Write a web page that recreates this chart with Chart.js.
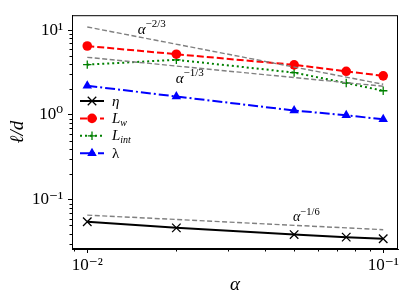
<!DOCTYPE html>
<html>
<head>
<meta charset="utf-8">
<script src="https://cdn.jsdelivr.net/npm/chart.js@4"></script>
<style>
html, body { margin: 0; padding: 0; background: #fff; }
#wrap { width: 407px; height: 300px; }
</style>
</head>
<body>
<div id="wrap"><canvas id="chart"></canvas></div>
<script>
// valores
const alpha = [0.01, 0.02, 0.05, 0.075, 0.1];
const eta = [0.055, 0.0467, 0.0389, 0.0363, 0.0348];
const lenW = [6.5, 5.2, 3.9, 3.27, 2.89];
const lenInt = [3.92, 4.47, 3.16, 2.38, 1.93];
const lambda = [2.21, 1.65, 1.13, 0.99, 0.89];

// retas de referência (só as pontas)
const guideX = [0.01, 0.1];
const guide23 = [10.9, 2.3];
const guide13 = [4.78, 2.18];
const guide16 = [0.066, 0.0444];

const xTicks = [0.01, 0.1];
const xTickLabels = ['10⁻²', '10⁻¹'];
const yTicks = [0.1, 1, 10];
const yTickLabels = ['10⁻¹', '10⁰', '10¹'];

const SERIF = '"Liberation Serif", "DejaVu Serif", serif';

function pts(xs, ys) {
    return xs.map((x, i) => ({ x: x, y: ys[i] }));
}

function guide(ys) {
    return {
        data: pts(guideX, ys), borderColor: '#808080', borderWidth: 1.4,
        borderDash: [5, 2.5], pointRadius: 0, fill: false
    };
}

const series = [
    { label: 'eta', data: pts(alpha, eta), borderColor: '#000', backgroundColor: '#000',
      borderWidth: 2, pointStyle: 'crossRot', pointRadius: 6, pointBorderWidth: 1.3 },
    { label: 'Lw', data: pts(alpha, lenW), borderColor: '#ff0000', backgroundColor: '#ff0000',
      borderWidth: 2, borderDash: [7, 3], pointStyle: 'circle', pointRadius: 4.8, pointBorderWidth: 0 },
    { label: 'Lint', data: pts(alpha, lenInt), borderColor: '#008000', backgroundColor: '#008000',
      borderWidth: 2, borderDash: [2, 3], pointStyle: 'cross', pointRadius: 4.2, pointBorderWidth: 1.3 },
    { label: 'lambda', data: pts(alpha, lambda), borderColor: '#0000ff', backgroundColor: '#0000ff',
      borderWidth: 2, borderDash: [10, 3, 2, 3], pointStyle: 'triangle', pointRadius: 5.5, pointBorderWidth: 0 }
];

// texto com sub/sobrescrito
function drawRich(ctx, parts, x, y) {
    ctx.textAlign = 'left';
    ctx.textBaseline = 'alphabetic';
    parts.forEach(p => {
        ctx.font = (p.italic ? 'italic ' : '') + p.size + 'px ' + SERIF;
        ctx.fillText(p.t, x, y + (p.dy || 0));
        x += ctx.measureText(p.t).width + (p.gap || 0);
    });
}

const legendRows = [
    [{ t: 'η', size: 15, italic: true }],
    [{ t: 'L', size: 15, italic: true }, { t: 'w', size: 10, italic: true, dy: 3 }],
    [{ t: 'L', size: 15, italic: true }, { t: 'int', size: 10, italic: true, dy: 3 }],
    [{ t: 'λ', size: 15, italic: false }]
];

const guideLabels = [
    { x: 0.0148, y: 8.9, parts: [{ t: 'α', size: 15, italic: true }, { t: '−2/3', size: 11, dy: -7 }] },
    { x: 0.0199, y: 2.37, parts: [{ t: 'α', size: 15, italic: true }, { t: '−1/3', size: 11, dy: -7 }] },
    { x: 0.0496, y: 0.056, parts: [{ t: 'α', size: 14, italic: true }, { t: '−1/6', size: 10.5, dy: -6 }] }
];

const decorPlugin = {
    id: 'decor',
    afterDraw(chart) {
        const ctx = chart.ctx;
        const a = chart.chartArea;
        const xs = chart.scales.x, ys = chart.scales.y;
        ctx.save();
        // moldura
        ctx.strokeStyle = '#000';
        ctx.lineWidth = 1;
        ctx.strokeRect(a.left + 0.5, a.top + 0.5, a.right - a.left - 1, a.bottom - a.top - 1);
        // marcas menores
        ctx.beginPath();
        for (let e = -3; e <= 1; e++) {
            for (let m = 2; m <= 9; m++) {
                const v = m * Math.pow(10, e);
                if (v > xs.min && v < xs.max) {
                    const px = Math.round(xs.getPixelForValue(v)) + 0.5;
                    ctx.moveTo(px, a.bottom); ctx.lineTo(px, a.bottom + 2.5);
                }
                if (v > ys.min && v < ys.max) {
                    const py = Math.round(ys.getPixelForValue(v)) + 0.5;
                    ctx.moveTo(a.left, py); ctx.lineTo(a.left - 2.5, py);
                }
            }
        }
        ctx.stroke();
        // rótulos das retas
        ctx.fillStyle = '#000';
        guideLabels.forEach(g => {
            drawRich(ctx, g.parts, xs.getPixelForValue(g.x), ys.getPixelForValue(g.y));
        });
        // legenda
        const lx0 = 80, lx1 = 104, ly = 101, step = 17.4;
        series.forEach((s, i) => {
            const y = ly + i * step;
            ctx.strokeStyle = s.borderColor;
            ctx.fillStyle = s.backgroundColor;
            ctx.lineWidth = s.borderWidth;
            ctx.setLineDash(s.borderDash || []);
            ctx.beginPath(); ctx.moveTo(lx0, y); ctx.lineTo(lx1, y); ctx.stroke();
            ctx.setLineDash([]);
            ctx.lineWidth = s.pointBorderWidth;
            Chart.helpers.drawPoint(ctx, {
                pointStyle: s.pointStyle, radius: s.pointRadius,
                borderWidth: s.pointBorderWidth, rotation: 0
            }, (lx0 + lx1) / 2, y);
            ctx.fillStyle = '#000';
            drawRich(ctx, legendRows[i], 112, y + 4.5);
        });
        ctx.restore();
    }
};

new Chart(document.getElementById('chart'), {
    type: 'line',
    data: {
        datasets: [guide(guide23), guide(guide13), guide(guide16)].concat(series)
    },
    options: {
        responsive: true,
        maintainAspectRatio: false,
        animation: false,
        layout: { padding: { top: 5, right: 9, left: 0, bottom: 0 } },
        plugins: { legend: { display: false }, tooltip: { enabled: false } },
        scales: {
            x: {
                type: 'logarithmic', min: 0.00888, max: 0.1122,
                afterBuildTicks: s => { s.ticks = xTicks.map(v => ({ value: v })); },
                afterFit: s => { s.height = 51; },
                ticks: {
                    callback: (v, i) => xTickLabels[i], color: '#000', padding: 2,
                    maxRotation: 0, autoSkip: false, font: { family: SERIF, size: 17 }
                },
                grid: { drawOnChartArea: false, tickLength: 4, tickColor: '#000', color: '#000' },
                border: { color: '#000', width: 1 },
                title: {
                    display: true, text: 'α', color: '#000',
                    font: { family: SERIF, size: 19, style: 'italic' }, padding: { top: 0, bottom: 4 }
                }
            },
            y: {
                type: 'logarithmic', min: 0.0263, max: 15,
                afterBuildTicks: s => { s.ticks = yTicks.map(v => ({ value: v })); },
                afterFit: s => { s.width = 72; },
                ticks: {
                    callback: (v, i) => yTickLabels[i], color: '#000', padding: 5,
                    autoSkip: false, font: { family: SERIF, size: 17 }
                },
                grid: { drawOnChartArea: false, tickLength: 4, tickColor: '#000', color: '#000' },
                border: { color: '#000', width: 1 },
                title: {
                    display: true, text: 'ℓ/d', color: '#000',
                    font: { family: SERIF, size: 19, style: 'italic' }, padding: { top: 7, bottom: 0 }
                }
            }
        }
    },
    plugins: [decorPlugin]
});
</script>
</body>
</html>
